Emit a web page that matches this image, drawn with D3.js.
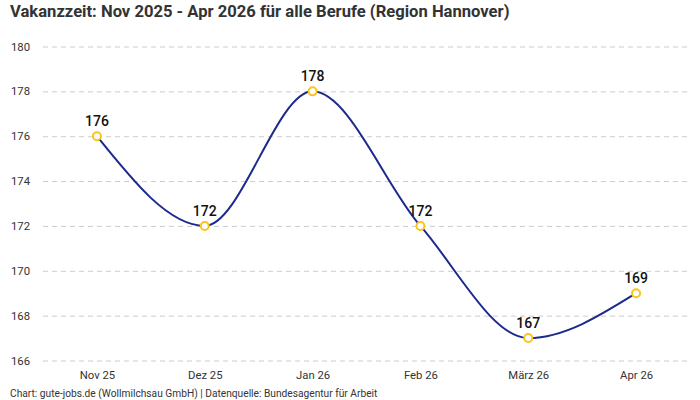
<!DOCTYPE html>
<html><head><meta charset="utf-8">
<script src="https://cdn.jsdelivr.net/npm/d3@7"></script>
<style>body{margin:0;background:#fff;}svg{display:block;font-family:"Roboto","Noto Sans",sans-serif;}</style>
</head><body>
<svg id="c" width="700" height="400"></svg>
<script>
const categories = ["Nov 25","Dez 25","Jan 26","Feb 26","März 26","Apr 26"];
const values = [176,172,178,172,167,169];
const yTicks = [166,168,170,172,174,176,178,180];
const title = "Vakanzzeit: Nov 2025 - Apr 2026 für alle Berufe (Region Hannover)";
const footer = "Chart: gute-jobs.de (Wollmilchsau GmbH) | Datenquelle: Bundesagentur für Arbeit";

(function(){
const svg = d3.select("#c");
const mLeft = 43, mRight = 690, mTop = 46.5, mBottom = 360.5;
const x = d3.scalePoint().domain(categories).range([mLeft, mRight]).padding(0.5);
const y = d3.scaleLinear().domain([166,180]).range([mBottom, mTop]);

svg.append("text").attr("x",10).attr("y",17).attr("font-size",16.6).attr("font-weight",700)
  .attr("fill","#333").text(title);

const gy = svg.append("g").attr("transform",`translate(${mLeft},0)`)
  .call(d3.axisLeft(y).tickValues(yTicks).tickSize(-(mRight-mLeft)).tickPadding(13).tickFormat(d3.format("d")));
gy.select(".domain").remove();
gy.selectAll(".tick line").attr("stroke","#ccc").attr("stroke-dasharray","5,4");
gy.selectAll(".tick text").attr("font-size",11.3).attr("fill","#333").attr("font-family","Roboto, sans-serif");

const gx = svg.append("g").attr("transform",`translate(0,${mBottom})`)
  .call(d3.axisBottom(x).tickSize(0).tickPadding(10));
gx.select(".domain").remove();
gx.selectAll(".tick text").attr("font-size",11.3).attr("fill","#333").attr("font-family","Roboto, sans-serif");

const line = d3.line().x((d,i)=>x(categories[i])).y(d=>y(d)).curve(d3.curveMonotoneX);
svg.append("path").datum(values).attr("d",line).attr("fill","none")
  .attr("stroke","#1b2a8c").attr("stroke-width",2);

svg.selectAll("circle.pt").data(values).join("circle").attr("class","pt")
  .attr("cx",(d,i)=>x(categories[i])).attr("cy",d=>y(d)).attr("r",4)
  .attr("fill","#fff").attr("stroke","#fcc419").attr("stroke-width",2);

svg.selectAll("text.lbl").data(values).join("text").attr("class","lbl")
  .attr("x",(d,i)=>x(categories[i])).attr("y",d=>y(d)-10).attr("text-anchor","middle")
  .attr("font-size",14).attr("font-weight",500).attr("fill","#111").text(d=>d);

svg.append("text").attr("x",10).attr("y",397).attr("font-size",10.2).attr("fill","#333").text(footer);
})();
</script>
</body></html>
